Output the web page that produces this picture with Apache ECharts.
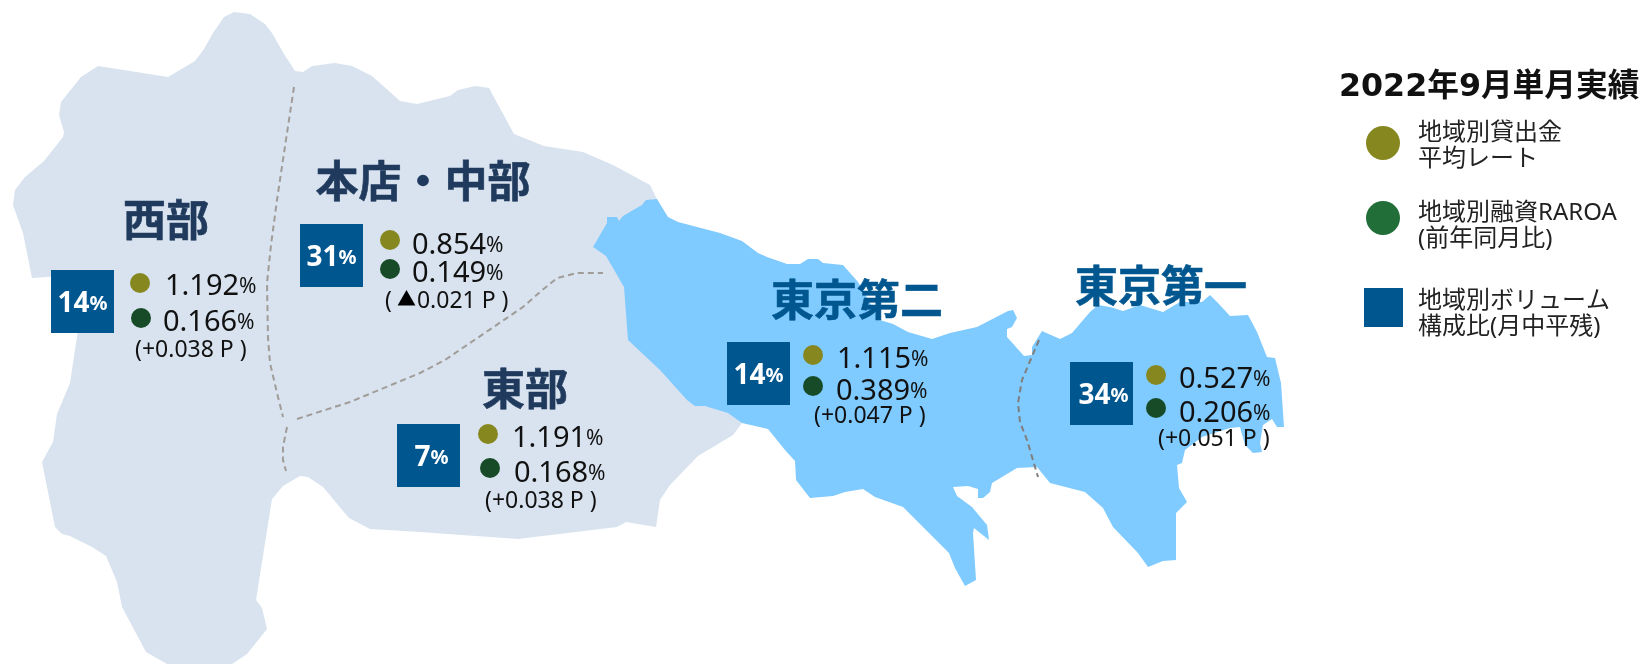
<!DOCTYPE html>
<html>
<head>
<meta charset="utf-8">
<title>2022年9月単月実績</title>
<script src="https://cdn.jsdelivr.net/npm/echarts@6/dist/echarts.min.js"></script>
<style>
    html, body { margin: 0; padding: 0; background: #fff; }
    #chart { width: 1641px; height: 664px; }
</style>
</head>
<body>
<div id="chart"></div>
<script>
// values
var regionNames = ['西部', '本店・中部', '東部', '東京第二', '東京第一'];
var volumeShare = [14, 31, 7, 14, 34];
var avgRate = ['1.192', '0.854', '1.191', '1.115', '0.527'];
var raroa = ['0.166', '0.149', '0.168', '0.389', '0.206'];
var raroaChange = ['(+0.038 P )', '( ▲0.021 P )', '(+0.038 P )', '(+0.047 P )', '(+0.051 P )'];
var legendNames = ['地域別貸出金\n平均レート', '地域別融資RAROA\n(前年同月比)', '地域別ボリューム\n構成比(月中平残)'];
var chartTitle = '2022年9月単月実績';

// map outlines, in map units (1 unit = 1px of the picture)
var outerArea = [[234,12],[250,14],[265,24],[272,33],[284,54],[295,71],[303,72],[312,66],[335,63],[352,66],[372,76],[390,92],[400,101],[417,104],[450,96],[458,90],[475,86],[489,88],[514,134],[544,146],[583,152],[613,165],[650,185],[657,199],[700,300],[742,423],[733,435],[698,456],[670,485],[660,500],[656,527],[626,522],[617,527],[518,539],[420,532],[370,529],[349,518],[323,487],[308,477],[300,476],[283,486],[272,499],[256,600],[262,608],[267,629],[247,654],[232,664],[167,664],[146,652],[122,607],[117,582],[106,556],[92,547],[70,536],[62,534],[55,527],[42,462],[53,442],[57,414],[70,383],[78,330],[60,276],[32,278],[23,233],[13,205],[15,190],[25,177],[44,161],[63,137],[64,132],[59,115],[61,102],[81,77],[98,66],[168,77],[195,61],[204,49],[213,33],[224,17]];
var tokyoArea = [[657,199],[668,217],[678,222],[720,233],[742,241],[758,253],[767,257],[787,264],[800,264],[808,259],[818,259],[823,263],[843,265],[858,282],[880,320],[893,324],[908,332],[932,339],[950,333],[977,327],[1008,311],[1013,310],[1017,318],[1012,327],[1007,329],[1007,337],[1024,356],[1032,355],[1032,347],[1042,331],[1060,339],[1072,333],[1090,312],[1098,305],[1110,307],[1123,311],[1140,305],[1163,312],[1180,302],[1202,302],[1210,295],[1218,303],[1230,316],[1248,315],[1257,332],[1267,357],[1275,358],[1281,383],[1284,427],[1277,427],[1272,419],[1263,425],[1260,443],[1262,452],[1253,453],[1245,445],[1240,427],[1230,428],[1202,437],[1185,450],[1182,463],[1177,465],[1179,488],[1187,502],[1176,513],[1176,560],[1163,561],[1148,567],[1138,553],[1113,527],[1103,508],[1085,492],[1050,483],[1037,467],[1017,468],[1007,474],[992,483],[990,492],[983,498],[978,498],[978,489],[968,486],[953,487],[957,496],[972,507],[987,525],[989,540],[974,528],[973,533],[976,580],[965,586],[955,568],[949,553],[903,507],[875,497],[863,489],[845,492],[833,496],[810,498],[796,480],[795,461],[785,450],[768,429],[755,426],[742,423],[728,413],[705,406],[695,406],[687,400],[660,370],[628,340],[624,287],[606,256],[593,247],[607,223],[607,217],[617,217],[619,221],[623,216],[642,205],[646,200]];

// district borders
var borderLight = [
    [[294,87],[287,133],[277,200],[271,245],[267,283],[268,338],[270,363],[277,393],[283,417]],
    [[287,427],[283,447],[283,460],[286,471]],
    [[297,419],[350,402],[420,373],[445,360],[523,307],[540,292],[557,278],[577,273],[603,273]]
];
var borderTokyo = [[[1039,340],[1022,380],[1018,403],[1020,422],[1027,440],[1038,477]]];

// where each district's marks sit on the map
var nameAt = [[166,220],[423,181],[525,389],[857,300],[1161,286]];
var shareAt = [[82.5,301.5],[331.5,255.5],[428.5,455.5],[758.5,373.5],[1101.5,393.5]];
var shareLabelNudge = [0, 0, 3, 0, 2];
var rateDotAt = [[140,283],[390,240],[488,434],[813,355],[1156,375]];
var raroaDotAt = [[141,318],[390,269],[490,468],[813,386],[1156,408]];
var rateTextAt = [[165,287],[412,246],[512,439],[837,360],[1179,380]];
var raroaTextAt = [[163,323],[412,274],[514,474],[836,392],[1179,414]];
var changeTextAt = [[135,350],[385,301],[485,501],[814,416],[1158,439]];
var legendDotAt = [[1383,143],[1383,218],[1383.5,307.5]];
var legendTextAt = [[1418,146],[1418,226],[1418,314]];

function polygon(name, ring) {
    return {
        type: 'Feature',
        properties: { name: name },
        geometry: { type: 'Polygon', coordinates: [ring.concat([ring[0]])] }
    };
}

echarts.registerMap('kanto', {
    type: 'FeatureCollection',
    features: [polygon('outer', outerArea), polygon('tokyo', tokyoArea)]
});

var FONT = '"Noto Sans", "Noto Sans CJK JP", sans-serif';

function textLayer(points, label) {
    return {
        type: 'scatter',
        coordinateSystem: 'geo',
        symbolSize: 0,
        silent: true,
        z: 5,
        itemStyle: { opacity: 1 },
        label: Object.assign({ show: true, fontFamily: FONT, position: 'right', distance: 0 }, label),
        data: points
    };
}

function percentLabel(values) {
    return function (params) {
        return '{v|' + values[params.dataIndex] + '}{p|%}';
    };
}

function plainLabel(values) {
    return function (params) {
        return values[params.dataIndex];
    };
}

var percentRich = {
    v: { fontSize: 29, color: '#111', fontFamily: FONT },
    p: { fontSize: 21, color: '#111', fontFamily: FONT }
};

var nameColors = ['#1f3a5c', '#1f3a5c', '#1f3a5c', '#00578f', '#00578f'];

var option = {
    animation: false,
    title: {
        text: chartTitle,
        left: 1339,
        top: 72,
        padding: 0,
        textStyle: { fontFamily: '"DejaVu Sans", "Noto Sans CJK JP", sans-serif', fontSize: 31.7, fontWeight: 'bold', color: '#111' }
    },
    geo: {
        map: 'kanto',
        projection: {
            project: function (p) { return p; },
            unproject: function (p) { return p; }
        },
        boundingCoords: [[0, 0], [1641, 664]],
        left: 0,
        top: 0,
        width: 1641,
        height: 664,
        roam: false,
        silent: true,
        label: { show: false },
        itemStyle: { areaColor: '#d8e3ef', borderWidth: 0, borderColor: 'transparent' },
        regions: [
            { name: 'outer', itemStyle: { areaColor: '#d8e3ef' } },
            { name: 'tokyo', itemStyle: { areaColor: '#7fcaff' } }
        ]
    },
    series: [
        {
            type: 'lines',
            coordinateSystem: 'geo',
            polyline: true,
            silent: true,
            lineStyle: { color: '#a09c98', width: 2, type: [6, 4], opacity: 1 },
            data: borderLight.map(function (c) { return { coords: c }; })
        },
        {
            type: 'lines',
            coordinateSystem: 'geo',
            polyline: true,
            silent: true,
            lineStyle: { color: '#7f7f7f', width: 2, type: [6, 4], opacity: 1 },
            data: borderTokyo.map(function (c) { return { coords: c }; })
        },
        {
            // volume share squares
            type: 'scatter',
            coordinateSystem: 'geo',
            symbol: 'rect',
            symbolSize: 63,
            silent: true,
            z: 4,
            itemStyle: { color: '#00568f', opacity: 1 },
            label: {
                show: true,
                position: 'inside',
                formatter: function (params) {
                    return '{v|' + volumeShare[params.dataIndex] + '}{p|%}';
                },
                rich: {
                    v: { fontSize: 28, fontWeight: 'bold', color: '#fff', fontFamily: FONT },
                    p: { fontSize: 20, fontWeight: 'bold', color: '#fff', fontFamily: FONT }
                }
            },
            data: shareAt.map(function (p, i) {
                return { value: p, label: { offset: [shareLabelNudge[i], 3] } };
            })
        },
        {
            type: 'scatter',
            coordinateSystem: 'geo',
            symbol: 'circle',
            symbolSize: 20,
            silent: true,
            z: 4,
            itemStyle: { color: '#878720', opacity: 1 },
            data: rateDotAt
        },
        {
            type: 'scatter',
            coordinateSystem: 'geo',
            symbol: 'circle',
            symbolSize: 20,
            silent: true,
            z: 4,
            itemStyle: { color: '#174a26', opacity: 1 },
            data: raroaDotAt
        },
        {
            type: 'scatter',
            coordinateSystem: 'geo',
            symbolSize: 0,
            silent: true,
            z: 5,
            itemStyle: { opacity: 1 },
            label: {
                show: true,
                position: 'inside',
                formatter: plainLabel(regionNames),
                fontSize: 43,
                fontWeight: 'bold',
                fontFamily: '"Noto Sans CJK JP", sans-serif'
            },
            data: nameAt.map(function (p, i) {
                return {
                    value: p,
                    label: { color: nameColors[i], textBorderColor: nameColors[i], textBorderWidth: 0.6 }
                };
            })
        },
        textLayer(rateTextAt, { formatter: percentLabel(avgRate), rich: percentRich }),
        textLayer(raroaTextAt, { formatter: percentLabel(raroa), rich: percentRich }),
        textLayer(changeTextAt, {
            // ▲ and the space in front of it are tighter in the original
            formatter: function (params) {
                return raroaChange[params.dataIndex].replace(' ▲', '{t|▲}');
            },
            fontSize: 23,
            color: '#111',
            rich: { t: { fontSize: 19, color: '#000', padding: [0, 1, 0, 5], fontFamily: FONT } }
        }),
        {
            // legend circles
            type: 'scatter',
            coordinateSystem: 'geo',
            symbol: 'circle',
            symbolSize: 34,
            silent: true,
            z: 4,
            data: [
                { value: legendDotAt[0], itemStyle: { color: '#878720', opacity: 1 } },
                { value: legendDotAt[1], itemStyle: { color: '#216e38', opacity: 1 } }
            ]
        },
        {
            type: 'scatter',
            coordinateSystem: 'geo',
            symbol: 'rect',
            symbolSize: 39,
            silent: true,
            z: 4,
            itemStyle: { color: '#00568f', opacity: 1 },
            data: [legendDotAt[2]]
        },
        textLayer(legendTextAt, { formatter: plainLabel(legendNames), fontSize: 24, lineHeight: 26, color: '#222' })
    ]
};

var chart = echarts.init(document.getElementById('chart'));
chart.setOption(option);
</script>
</body>
</html>
